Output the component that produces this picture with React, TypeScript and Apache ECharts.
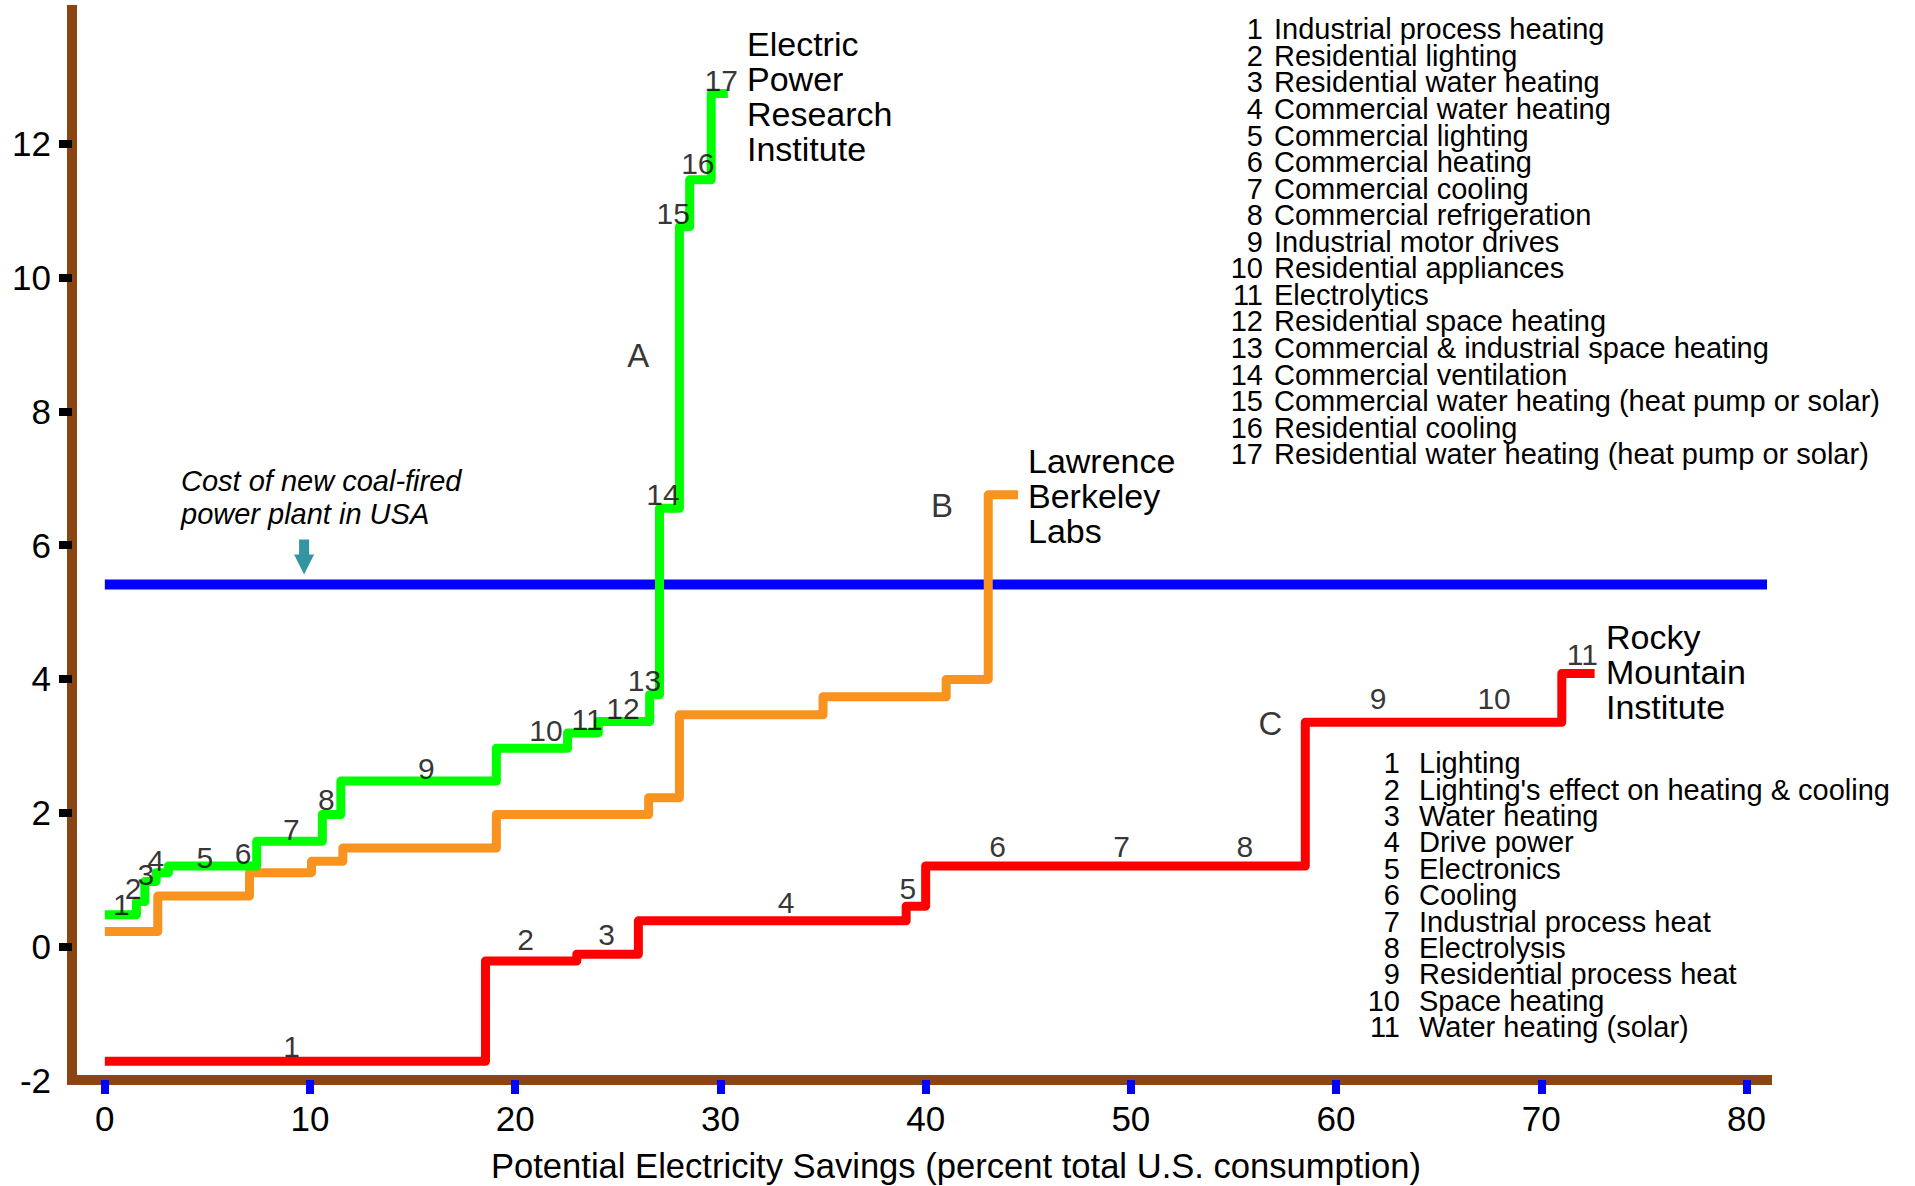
import React, { useEffect, useRef } from "react";
import * as echarts from "echarts";

const FONT = '"Liberation Sans", Arial, Helvetica, sans-serif';

// Axis ticks / labels
const X_TICKS = [0, 10, 20, 30, 40, 50, 60, 70, 80];
const Y_TICKS = [0, 2, 4, 6, 8, 10, 12];
const Y_LABELS = [-2, 0, 2, 4, 6, 8, 10, 12];

// Cost of new coal-fired power plant
const COAL_COST = 5.41;

// A: Electric Power Research Institute (segment start x, cost level), end x
const EPRI_X = [0, 1.54, 1.95, 2.5, 3.1, 5.6, 7.4, 10.6, 11.5, 19.08, 22.55, 24.05, 26.55, 27.03, 28.0, 28.5, 29.55];
const EPRI_Y = [0.47, 0.67, 0.97, 1.1, 1.2, 1.2, 1.57, 1.97, 2.47, 2.96, 3.19, 3.36, 3.76, 6.55, 10.76, 11.46, 12.75];
const EPRI_END = 30.36;
const EPRI_LABELS = ["1", "2", "3", "4", "5", "6", "7", "8", "9", "10", "11", "12", "13", "14", "15", "16", "17"];
const EPRI_LABEL_X = [0.81, 1.38, 2.0, 2.48, 4.87, 6.74, 9.09, 10.8, 15.67, 21.5, 23.5, 25.25, 26.3, 27.2, 27.7, 28.9, 30.04];
const EPRI_LABEL_Y = [0.63, 0.86, 1.07, 1.28, 1.32, 1.39, 1.74, 2.19, 2.66, 3.22, 3.39, 3.56, 3.97, 6.75, 10.96, 11.71, 12.95];

// B: Lawrence Berkeley Labs
const LBL_X = [0, 2.58, 7.05, 10.07, 11.6, 19.08, 26.5, 28.0, 35.0, 41.0, 43.05];
const LBL_Y = [0.22, 0.75, 1.1, 1.27, 1.47, 1.97, 2.22, 3.46, 3.73, 3.99, 6.75];
const LBL_END = 44.5;

// C: Rocky Mountain Institute
const RMI_X = [0, 18.55, 23.0, 26.0, 39.05, 40.0, 46.5, 52.5, 58.5, 65.0, 71.0];
const RMI_Y = [-1.72, -0.22, -0.12, 0.38, 0.6, 1.2, 1.2, 1.2, 3.35, 3.35, 4.08];
const RMI_END = 72.6;
const RMI_LABELS = ["1", "2", "3", "4", "5", "6", "7", "8", "9", "10", "11"];
const RMI_LABEL_X = [9.1, 20.5, 24.45, 33.2, 39.13, 43.5, 49.55, 55.56, 62.05, 67.7, 72.0];
const RMI_LABEL_Y = [-1.5, 0.1, 0.18, 0.66, 0.87, 1.49, 1.49, 1.49, 3.7, 3.7, 4.36];

// Curve letters
const CURVE_LETTERS = ["A", "B", "C"];
const CURVE_LETTER_X = [26.0, 40.8, 56.8];
const CURVE_LETTER_Y = [8.83, 6.59, 3.33];

// Arrow pointing at coal line
const ARROW_POS = [9.71, 5.82];

const EPRI_MEASURES = [
  "Industrial process heating",
  "Residential lighting",
  "Residential water heating",
  "Commercial water heating",
  "Commercial lighting",
  "Commercial heating",
  "Commercial cooling",
  "Commercial refrigeration",
  "Industrial motor drives",
  "Residential appliances",
  "Electrolytics",
  "Residential space heating",
  "Commercial & industrial space heating",
  "Commercial ventilation",
  "Commercial water heating (heat pump or solar)",
  "Residential cooling",
  "Residential water heating (heat pump or solar)",
];

const RMI_MEASURES = [
  "Lighting",
  "Lighting's effect on heating & cooling",
  "Water heating",
  "Drive power",
  "Electronics",
  "Cooling",
  "Industrial process heat",
  "Electrolysis",
  "Residential process heat",
  "Space heating",
  "Water heating (solar)",
];

function stepPoints(xs: number[], ys: number[], end: number): number[][] {
  const pts: number[][] = [];
  for (let i = 0; i < xs.length; i++) {
    const next = i + 1 < xs.length ? xs[i + 1] : end;
    pts.push([xs[i], ys[i]]);
    pts.push([next, ys[i]]);
  }
  return pts;
}

function labelData(names: string[], xs: number[], ys: number[]) {
  return names.map((n, i) => ({ name: n, value: [xs[i], ys[i]] }));
}

export default function App() {
  const ref = useRef<HTMLDivElement>(null);

  useEffect(() => {
    document.body.style.margin = "0";
    document.body.style.overflow = "hidden";
    if (!ref.current) return;
    const chart = echarts.init(ref.current, null, { renderer: "svg" });

    const stepLine = (name: string, data: number[][], color: string) => ({
      type: "line",
      name,
      data,
      symbol: "none",
      silent: true,
      lineStyle: { color, width: 9, join: "round", cap: "butt" },
    });

    const textLabels = (data: any[], fontSize: number) => ({
      type: "scatter",
      data,
      symbolSize: 1,
      silent: true,
      itemStyle: { color: "rgba(0,0,0,0)" },
      label: {
        show: true,
        position: "inside",
        formatter: "{b}",
        color: "#000",
        fontSize,
        fontFamily: FONT,
      },
      z: 5,
    });

    const option: any = {
      animation: false,
      backgroundColor: "#ffffff",
      grid: { left: 72, right: 148, top: 10, bottom: 106, containLabel: false, outerBoundsMode: "none" },
      xAxis: [
        {
          type: "value",
          min: -1.6,
          max: 81,
          position: "bottom",
          axisLine: { show: false, onZero: false },
          axisTick: { show: true, customValues: X_TICKS, length: 14, lineStyle: { color: "#0000FF", width: 8 } },
          axisLabel: { show: true, customValues: X_TICKS, margin: 21, fontSize: 35, color: "#000", fontFamily: FONT },
          splitLine: { show: false },
        },
        {
          type: "value",
          min: -1.6,
          max: 81,
          position: "bottom",
          axisLine: { show: true, onZero: false, lineStyle: { color: "#8B4513", width: 10, cap: "square" } },
          axisTick: { show: false },
          axisLabel: { show: false },
          splitLine: { show: false },
        },
      ],
      yAxis: {
        type: "value",
        min: -2,
        max: 14,
        interval: 2,
        axisLine: { show: true, onZero: false, lineStyle: { color: "#8B4513", width: 10, cap: "square" } },
        axisTick: { show: true, customValues: Y_TICKS, length: 13, lineStyle: { color: "#000", width: 8 } },
        axisLabel: { show: true, customValues: Y_LABELS, margin: 21, fontSize: 35, color: "#000", fontFamily: FONT },
        splitLine: { show: false },
      },
      series: [
        {
          type: "line",
          name: "Coal",
          data: [
            [0, COAL_COST],
            [81, COAL_COST],
          ],
          symbol: "none",
          silent: true,
          lineStyle: { color: "#0000FF", width: 10 },
        },
        stepLine("Rocky Mountain Institute", stepPoints(RMI_X, RMI_Y, RMI_END), "#FF0000"),
        stepLine("Lawrence Berkeley Labs", stepPoints(LBL_X, LBL_Y, LBL_END), "#F7931E"),
        stepLine("Electric Power Research Institute", stepPoints(EPRI_X, EPRI_Y, EPRI_END), "#00FF00"),
        {
          type: "scatter",
          data: [ARROW_POS],
          symbol: "path://M5,0L15,0L15,15L20,15L10,35L0,15L5,15Z",
          symbolSize: [20, 35],
          silent: true,
          itemStyle: { color: "#007B8A" },
        },
        textLabels(labelData(EPRI_LABELS, EPRI_LABEL_X, EPRI_LABEL_Y), 30),
        textLabels(labelData(RMI_LABELS, RMI_LABEL_X, RMI_LABEL_Y), 30),
        textLabels(labelData(CURVE_LETTERS, CURVE_LETTER_X, CURVE_LETTER_Y), 33),
      ],
      graphic: [
        {
          type: "text",
          x: 747,
          y: 26.5,
          style: {
            text: "Electric\nPower\nResearch\nInstitute",
            fontSize: 34,
            fontFamily: FONT,
            fill: "#000",
            lineHeight: 35,
            align: "left",
            verticalAlign: "top",
          },
        },
        {
          type: "text",
          x: 1028,
          y: 444,
          style: {
            text: "Lawrence\nBerkeley\nLabs",
            fontSize: 34,
            fontFamily: FONT,
            fill: "#000",
            lineHeight: 34.7,
            align: "left",
            verticalAlign: "top",
          },
        },
        {
          type: "text",
          x: 1606,
          y: 620,
          style: {
            text: "Rocky\nMountain\nInstitute",
            fontSize: 34,
            fontFamily: FONT,
            fill: "#000",
            lineHeight: 34.7,
            align: "left",
            verticalAlign: "top",
          },
        },
        {
          type: "text",
          x: 1263,
          y: 16,
          style: {
            text: EPRI_MEASURES.map((_, i) => String(i + 1)).join("\n"),
            fontSize: 29,
            fontFamily: FONT,
            fill: "#000",
            lineHeight: 26.56,
            align: "right",
            verticalAlign: "top",
          },
        },
        {
          type: "text",
          x: 1274,
          y: 16,
          style: {
            text: EPRI_MEASURES.join("\n"),
            fontSize: 29,
            fontFamily: FONT,
            fill: "#000",
            lineHeight: 26.56,
            align: "left",
            verticalAlign: "top",
          },
        },
        {
          type: "text",
          x: 1400,
          y: 750,
          style: {
            text: RMI_MEASURES.map((_, i) => String(i + 1)).join("\n"),
            fontSize: 29,
            fontFamily: FONT,
            fill: "#000",
            lineHeight: 26.4,
            align: "right",
            verticalAlign: "top",
          },
        },
        {
          type: "text",
          x: 1419,
          y: 750,
          style: {
            text: RMI_MEASURES.join("\n"),
            fontSize: 29,
            fontFamily: FONT,
            fill: "#000",
            lineHeight: 26.4,
            align: "left",
            verticalAlign: "top",
          },
        },
        {
          type: "text",
          x: 181,
          y: 464.5,
          style: {
            text: "Cost of new coal-fired\npower plant in USA",
            fontSize: 29,
            fontStyle: "italic",
            fontFamily: FONT,
            fill: "#000",
            lineHeight: 33,
            align: "left",
            verticalAlign: "top",
          },
        },
        {
          type: "text",
          x: 956,
          y: 1166,
          style: {
            text: "Potential Electricity Savings (percent total U.S. consumption)",
            fontSize: 34.6,
            fontFamily: FONT,
            fill: "#000",
            align: "center",
            verticalAlign: "middle",
          },
        },
      ],
    };

    chart.setOption(option);
    return () => chart.dispose();
  }, []);

  return <div ref={ref} style={{ width: 1915, height: 1186, background: "#fff" }} />;
}
